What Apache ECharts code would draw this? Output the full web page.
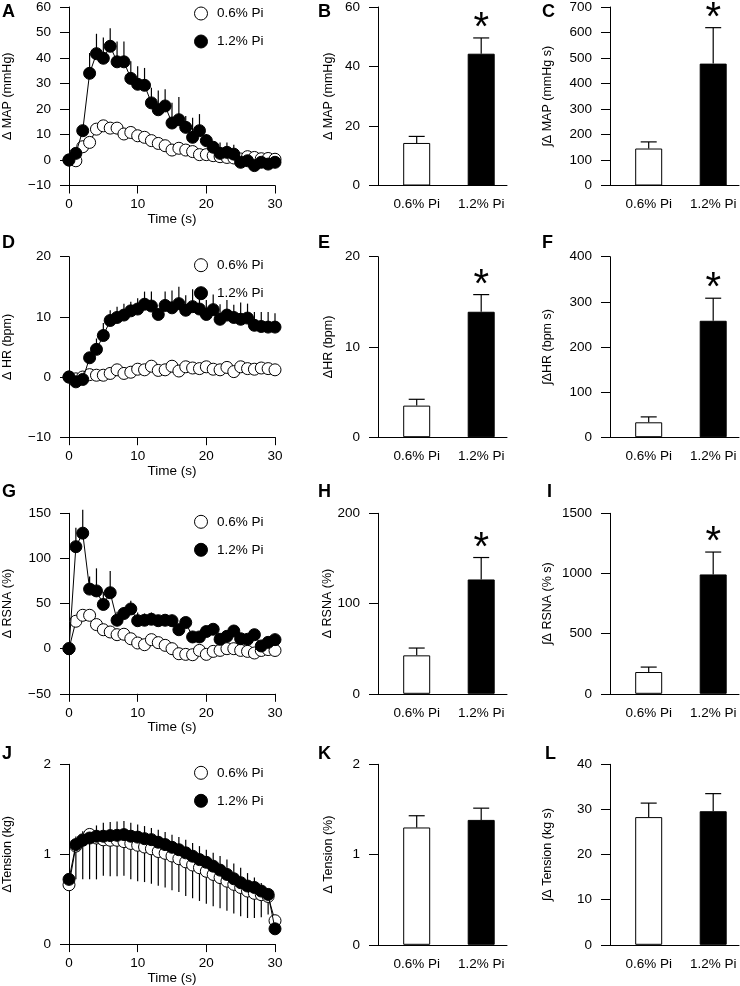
<!DOCTYPE html>
<html><head><meta charset="utf-8">
<script src="https://cdn.jsdelivr.net/npm/echarts@6/dist/echarts.min.js"></script>
<style>html,body{margin:0;padding:0;background:#fff}#c{width:740px;height:986px}</style>
</head><body><div id="c"></div>
<script>
// ---------- DATA ----------
const time = [0,1,2,3,4,5,6,7,8,9,10,11,12,13,14,15,16,17,18,19,20,21,22,23,24,25,26,27,28,29,30];
const groups = ['0.6% Pi', '1.2% Pi'];

// A: MAP time course
const mapLow    = [0,-0.3,5.2,6.9,12.1,13.4,12.5,12.5,10.2,10.8,9.5,8.9,7.6,6.5,5.6,3.9,4.6,3.9,3.3,2.1,2.1,1.7,1.3,1.0,0.8,0.4,1.3,1.0,0.5,0.6,0.3];
const mapLowSE  = [0,0,0,0,0,0,0,0,0,0,0,0,0,0,0,0,0,0,0,0,0,0,0,0,0,0,1.7,0,0,1.0,0];
const mapHigh   = [0,2.6,11.5,34,41.7,39.9,44.6,38.5,38.5,32,29.7,29.3,22.4,19.7,21.2,14.5,15.8,12.8,8.9,11.5,7.6,5,2.6,3,2.3,-0.9,-0.3,-2.2,-0.9,-1.6,-0.9];
const mapHighSE = [0,1,1.5,8,7.8,8.1,7.1,8,8,6.7,7.1,6.8,5.9,7.6,6.5,8,8.9,4.5,7.7,6.5,2.6,2.3,4.3,3.9,3.7,2.5,3.3,2.5,1.5,2.5,2];
// D: HR time course
const hrLow    = [0,-0.3,0,0.4,0.3,0.3,0.6,1.2,0.6,0.8,1.3,1.2,1.8,1.1,1.2,1.8,1.0,1.7,1.5,1.4,1.7,1.3,1.2,1.6,0.9,1.7,1.4,1.3,1.5,1.4,1.2];
const hrHigh   = [0,-0.8,-0.4,3.2,4.6,6.9,9.4,9.9,10.3,11.0,11.3,12.1,11.8,10.4,11.9,11.5,12.2,11.1,11.7,11.3,10.4,11.2,9.6,10.3,9.9,9.6,9.8,8.6,8.4,8.3,8.3];
const hrHighSE = [0,0,0.3,0.8,1.8,2.1,1.7,1.8,1.9,1.5,1.8,2.1,2.4,1.0,2.3,2.9,2.8,2.5,2.9,2.3,2.4,2.5,2.5,2.5,2.1,2.8,2.4,2.2,2.4,2.5,2.3];
// G: RSNA time course
const rsnaLow    = [0,30.4,37,37,26.7,21,18.5,15.5,16,11,6.3,4.4,10,6.7,3.7,0,-5.6,-6.3,-6.7,-1.9,-6.3,-3,-1.9,0,0,-1.9,-3,-4.8,-2,-1,-2];
const rsnaLowSE  = [0,0,0,0,0,0,0,0,0,0,0,0,0,0,0,0,5,5.5,4.5,0,0,0,0,0,0,0,0,0,0,0,0];
const rsnaHigh   = [0,113,128,66,64,49,62,31.5,39,44,31,31.5,32.6,31,31.5,31,21,29,13,13,19,21.5,10.4,13.7,19.6,11,10.4,15.5,3,7,10];
const rsnaHighSE = [0,21,26,14,25,14,24,9.5,7,9,9,7.5,7.4,6,6.5,6,7,6,5.5,5.5,5,4.5,5,4.8,6.4,5,5.6,4.5,2,4,4];
// J: Tension time course
const tenLow    = [0.66,1.09,1.16,1.22,1.18,1.16,1.155,1.155,1.14,1.12,1.10,1.08,1.06,1.03,1.01,0.98,0.95,0.915,0.88,0.85,0.81,0.775,0.74,0.70,0.665,0.63,0.59,0.565,0.55,0.53,0.26];
const tenLowSE  = [0,0.37,0.44,0.5,0.46,0.4,0.4,0.4,0.38,0.4,0.4,0.39,0.39,0.38,0.38,0.38,0.37,0.38,0.37,0.37,0.36,0.355,0.34,0.33,0.325,0.32,0.3,0.275,0.25,0.2,0];
const tenHigh   = [0.72,1.107,1.155,1.18,1.2,1.2,1.207,1.21,1.218,1.2,1.19,1.173,1.162,1.133,1.107,1.077,1.05,1.015,0.978,0.94,0.91,0.867,0.823,0.775,0.727,0.683,0.646,0.63,0.59,0.553,0.17];
const tenHighSE = [0,0.09,0.1,0.09,0.12,0.15,0.15,0.155,0.15,0.15,0.14,0.14,0.13,0.14,0.14,0.14,0.14,0.145,0.147,0.15,0.14,0.15,0.157,0.165,0.17,0.167,0.144,0.11,0.09,0.05,0];

// Bar panels: [0.6% Pi, 1.2% Pi]
const mapPeak = [14.3, 44.3],  mapPeakSE = [2.2, 5.3];
const mapAUC  = [145, 478],    mapAUCSE  = [26, 141];
const hrPeak  = [3.5, 13.9],   hrPeakSE  = [0.7, 1.9];
const hrAUC   = [33, 258],     hrAUCSE   = [12, 50];
const rsnaPeak = [42.6, 126.7], rsnaPeakSE = [8.1, 24.3];
const rsnaAUC  = [181, 992],    rsnaAUCSE  = [41, 186];
const tenPeak = [1.3, 1.384],  tenPeakSE = [0.13, 0.13];
const tenAUC  = [28.3, 29.6],  tenAUCSE  = [3.1, 3.9];
const sigMark = [false, true];
const nsMark  = [false, false];

// ---------- BUILD ----------
const FONT = '"Liberation Sans", Arial, sans-serif';
const BLACK = '#000';
const rowTop = [5, 256.7, 513.3, 764.3];
const rowH = 180.5;
const colLeft = [69, 378, 610];
const colW = [206, 129, 129];

const grids = [], xAxes = [], yAxes = [], series = [], legends = [], graphics = [];
const minus = v => String(v).replace('-', '\u2212');

function baseAxisStyle() {
  return {
    axisLine: { show: true, onZero: false, lineStyle: { color: BLACK, width: 1 } },
    axisTick: { show: true, length: 8, lineStyle: { color: BLACK, width: 1 } },
    splitLine: { show: false },
    axisLabel: { color: BLACK, fontSize: 13.5, fontFamily: FONT, formatter: minus },
    nameTextStyle: { color: BLACK, fontSize: 12.5, fontFamily: FONT },
  };
}

function errRender(dir, cap, withStar) {
  return function (params, api) {
    const x = api.value(0), y = api.value(1), e = api.value(2), star = api.value(3);
    const children = [];
    const p0 = api.coord([x, y]);
    const p1 = api.coord([x, y + dir * e]);
    if (e > 0) {
      children.push({ type: 'line', shape: { x1: p0[0], y1: p0[1], x2: p1[0], y2: p1[1] }, style: { stroke: BLACK, lineWidth: 1.2 } });
      if (cap) children.push({ type: 'line', shape: { x1: p1[0] - cap, y1: p1[1], x2: p1[0] + cap, y2: p1[1] }, style: { stroke: BLACK, lineWidth: 1.2 } });
    }
    if (withStar && star) {
      children.push({ type: 'text', x: p1[0], y: p1[1] - 9, style: { text: '*', fill: BLACK, font: '40px ' + FONT, align: 'center', verticalAlign: 'middle' } });
    }
    return { type: 'group', children };
  };
}

function addGrid(row, col) {
  grids.push({ left: colLeft[col], top: rowTop[row], width: colW[col], height: rowH, containLabel: false });
  return grids.length - 1;
}

function letter(txt, x, y) {
  graphics.push({ type: 'text', x: x, y: y, style: { text: txt, font: 'bold 18px ' + FONT, fill: BLACK, align: 'left', verticalAlign: 'top' } });
}

function timePanel(row, yName, ymin, ymax, yint, low, lowSE, lowDir, high, highSE, highDir) {
  const g = addGrid(row, 0);
  const xa = Object.assign(baseAxisStyle(), {
    gridIndex: g, type: 'value', min: 0, max: 30, interval: 10,
    name: 'Time (s)', nameLocation: 'middle', nameGap: 26,
  });
  xa.axisLabel.margin = 12;
  xa.nameTextStyle.fontSize = 13.5;
  xAxes.push(xa);
  const ya = Object.assign(baseAxisStyle(), {
    gridIndex: g, type: 'value', min: ymin, max: ymax, interval: yint,
    name: yName, nameLocation: 'middle', nameGap: 55, nameRotate: 90,
  });
  ya.axisTick.length = 9;
  ya.axisLabel.margin = 18;
  yAxes.push(ya);
  const idx = xAxes.length - 1;
  if (lowSE) series.push({ type: 'custom', xAxisIndex: idx, yAxisIndex: idx, silent: true, z: 1,
    renderItem: errRender(lowDir, 0, false), data: time.map((t, i) => [t, low[i], lowSE[i], 0]) });
  if (highSE) series.push({ type: 'custom', xAxisIndex: idx, yAxisIndex: idx, silent: true, z: 1,
    renderItem: errRender(highDir, 0, false), data: time.map((t, i) => [t, high[i], highSE[i], 0]) });
  series.push({ name: groups[0], type: 'line', xAxisIndex: idx, yAxisIndex: idx, z: 2,
    data: time.map((t, i) => [t, low[i]]), symbol: 'circle', symbolSize: 12, animation: false,
    lineStyle: { color: BLACK, width: 1 }, itemStyle: { color: '#fff', borderColor: BLACK, borderWidth: 1 } });
  series.push({ name: groups[1], type: 'line', xAxisIndex: idx, yAxisIndex: idx, z: 3,
    data: time.map((t, i) => [t, high[i]]), symbol: 'circle', symbolSize: 12, animation: false,
    lineStyle: { color: BLACK, width: 1 }, itemStyle: { color: BLACK, borderColor: BLACK, borderWidth: 1 } });
  legends.push({
    orient: 'vertical', left: 194, top: rowTop[row] + 1.5, padding: 0, itemWidth: 22, itemHeight: 13, itemGap: 14,
    selectedMode: false, textStyle: { color: BLACK, fontSize: 13.5, fontFamily: FONT },
    data: [
      { name: groups[0], icon: 'circle', itemStyle: { color: '#fff', borderColor: BLACK, borderWidth: 1 } },
      { name: groups[1], icon: 'circle', itemStyle: { color: BLACK, borderColor: BLACK, borderWidth: 1 } },
    ],
  });
}

function barPanel(row, col, yName, ymax, yint, vals, se, sig, nameGap) {
  const g = addGrid(row, col);
  const xa = Object.assign(baseAxisStyle(), { gridIndex: g, type: 'value', min: 0.4, max: 2.4 });
  xa.axisTick = { show: false };
  xa.axisLabel = { color: BLACK, fontSize: 13.5, fontFamily: FONT, margin: 12,
    customValues: [1, 2], formatter: v => groups[Math.round(v) - 1] || '' };
  xAxes.push(xa);
  const ya = Object.assign(baseAxisStyle(), {
    gridIndex: g, type: 'value', min: 0, max: ymax, interval: yint,
    name: yName, nameLocation: 'middle', nameGap: nameGap, nameRotate: 90,
  });
  ya.axisTick.length = 9;
  ya.axisLabel.margin = 18;
  yAxes.push(ya);
  const idx = xAxes.length - 1;
  series.push({ type: 'bar', xAxisIndex: idx, yAxisIndex: idx, barWidth: 27, animation: false, z: 2,
    data: vals.map((v, i) => ({ value: [i + 1, v],
      itemStyle: { color: i ? BLACK : '#fff', borderColor: BLACK, borderWidth: 1 } })) });
  series.push({ type: 'custom', xAxisIndex: idx, yAxisIndex: idx, silent: true, z: 1,
    renderItem: errRender(1, 8, true), data: vals.map((v, i) => [i + 1, v, se[i], sig[i] ? 1 : 0]) });
}

// Row 1
timePanel(0, '\u0394 MAP (mmHg)', -10, 60, 10, mapLow, mapLowSE, 1, mapHigh, mapHighSE, 1);
barPanel(0, 1, '\u0394 MAP (mmHg)', 60, 20, mapPeak, mapPeakSE, sigMark, 43);
barPanel(0, 2, '\u222B\u0394 MAP (mmHg s)', 700, 100, mapAUC, mapAUCSE, sigMark, 56);
// Row 2
timePanel(1, '\u0394 HR (bpm)', -10, 20, 10, hrLow, null, 1, hrHigh, hrHighSE, 1);
barPanel(1, 1, '\u0394HR (bpm)', 20, 10, hrPeak, hrPeakSE, sigMark, 43);
barPanel(1, 2, '\u222B\u0394HR (bpm s)', 400, 100, hrAUC, hrAUCSE, sigMark, 56);
// Row 3
timePanel(2, '\u0394 RSNA (%)', -50, 150, 50, rsnaLow, rsnaLowSE, -1, rsnaHigh, rsnaHighSE, 1);
barPanel(2, 1, '\u0394 RSNA (%)', 200, 100, rsnaPeak, rsnaPeakSE, sigMark, 43);
barPanel(2, 2, '\u222B\u0394 RSNA (% s)', 1500, 500, rsnaAUC, rsnaAUCSE, sigMark, 56);
// Row 4
timePanel(3, '\u0394Tension (kg)', 0, 2, 1, tenLow, tenLowSE, -1, tenHigh, tenHighSE, 1);
barPanel(3, 1, '\u0394 Tension (%)', 2, 1, tenPeak, tenPeakSE, nsMark, 43);
barPanel(3, 2, '\u222B\u0394 Tension (kg s)', 40, 10, tenAUC, tenAUCSE, nsMark, 56);

// panel letters
letter('A', 2, 3); letter('B', 318, 3); letter('C', 542, 3);
letter('D', 2, 234); letter('E', 318, 234); letter('F', 542, 234);
letter('G', 2, 483); letter('H', 318, 483); letter('I', 547, 483);
letter('J', 2, 745); letter('K', 318, 745); letter('L', 545, 745);

const chart = echarts.init(document.getElementById('c'), null, { renderer: 'canvas' });
chart.setOption({
  backgroundColor: '#fff',
  animation: false,
  textStyle: { fontFamily: FONT, color: BLACK },
  grid: grids, xAxis: xAxes, yAxis: yAxes, series: series, legend: legends, graphic: graphics,
});
</script></body></html>
